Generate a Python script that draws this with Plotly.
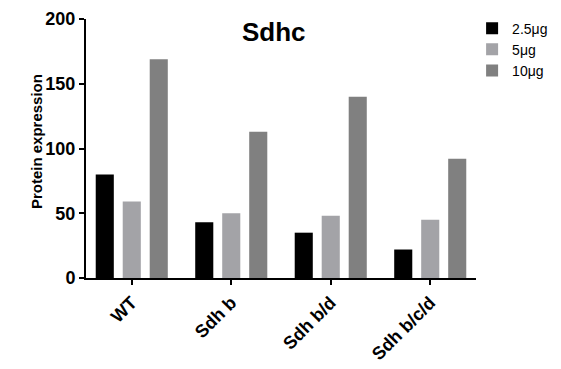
import plotly.graph_objects as go

categories = ["WT", "Sdh b", "Sdh b/d", "Sdh b/c/d"]
series_names = ["2.5μg", "5μg", "10μg"]
vals_25 = [80, 43, 35, 22]
vals_5 = [59, 50, 48, 45]
vals_10 = [169, 113, 140, 92]
colors = ["#000000", "#a3a3a7", "#808080"]
yticks = [0, 50, 100, 150, 200]

FONT = "Arial, 'Liberation Sans', sans-serif"

fig = go.Figure()
for name, vals, c in zip(series_names, [vals_25, vals_5, vals_10], colors):
    fig.add_trace(go.Bar(x=list(range(len(categories))), y=vals, name=name,
                         marker=dict(color=c, line=dict(width=0))))

fig.update_layout(
    width=561, height=369,
    margin=dict(l=86, r=85, t=19, b=91, autoexpand=False),
    plot_bgcolor="white", paper_bgcolor="white",
    barmode="group", bargap=0.186, bargroupgap=0.33,
    font=dict(family=FONT, color="black"),
    showlegend=True,
    legend=dict(x=0.99, xanchor="left", y=1.025, yanchor="top",
                xref="paper", yref="paper",
                font=dict(size=14, family=FONT), bgcolor="rgba(0,0,0,0)",
                tracegroupgap=0, itemsizing="constant"),
    annotations=[
        dict(text="<b>Sdhc</b>", xref="paper", x=(273.5 - 86) / 390,
             yref="paper", y=(278 - 32) / 259, xanchor="center", yanchor="middle",
             showarrow=False, font=dict(size=26, family=FONT)),
        dict(text="<b>Protein expression</b>", x=-0.128, xref="paper", xanchor="center",
             y=0.525, yref="paper", yanchor="middle", textangle=-90, showarrow=False,
             font=dict(size=15, family=FONT)),
    ],
)

fig.update_xaxes(range=[-0.46, 3.46], tickmode="array",
                 tickvals=list(range(len(categories))),
                 ticktext=["<b>%s</b>" % c for c in categories],
                 tickangle=-45, tickfont=dict(size=18, family=FONT),
                 showline=True, linecolor="black", linewidth=2,
                 ticks="outside", ticklen=5, tickwidth=2, tickcolor="black",
                 showgrid=False, zeroline=False, automargin=False)
fig.update_yaxes(range=[0, 200], tickmode="array", tickvals=yticks,
                 ticktext=["<b>%d</b>" % v for v in yticks],
                 tickfont=dict(size=18, family=FONT),
                 showline=True, linecolor="black", linewidth=2,
                 ticks="outside", ticklen=5, tickwidth=2, tickcolor="black",
                 showgrid=False, zeroline=False, automargin=False)

fig.write_html("out.html", config={"displayModeBar": False},
               post_script="document.body.style.margin='0';")
